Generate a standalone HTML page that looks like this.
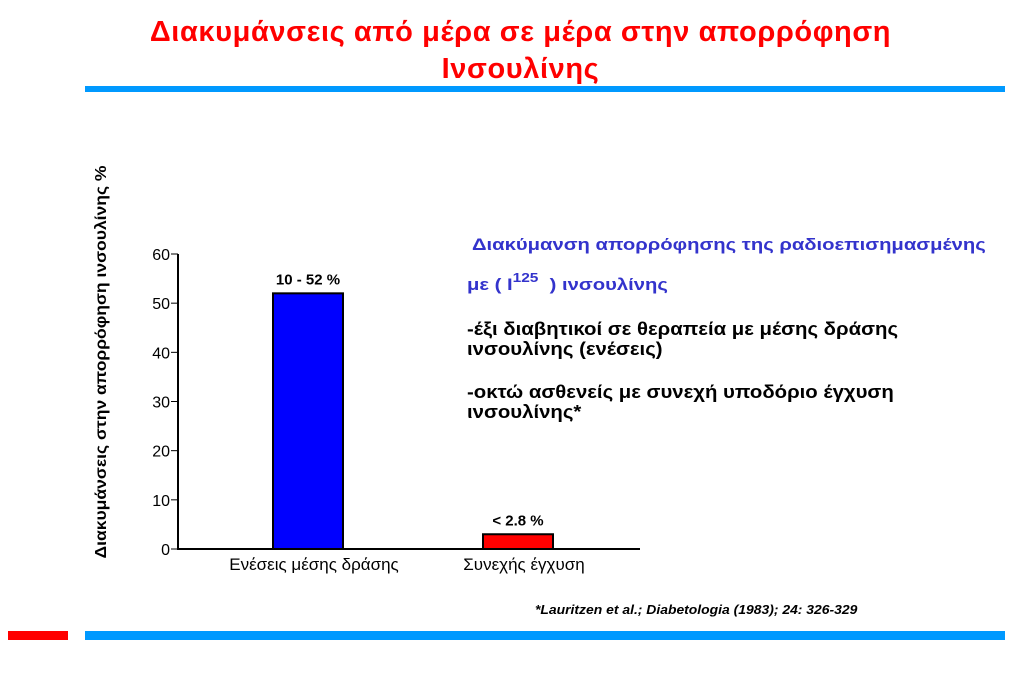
<!DOCTYPE html>
<html><head><meta charset="utf-8"><style>
body{margin:0;width:1023px;height:682px;background:#fff;position:relative;overflow:hidden;font-family:"Liberation Sans",sans-serif}
.t{position:absolute;white-space:nowrap;transform-origin:0 0}
</style></head><body>
<div class="t" style="left:148px;width:745px;text-align:center;top:14px;color:#ff0000;font-size:29px;font-weight:bold;line-height:37px;letter-spacing:0.6px">Διακυμάνσεις από μέρα σε μέρα στην απορρόφηση<br>Ινσουλίνης</div>
<div style="position:absolute;left:85px;top:86px;width:920px;height:6px;background:#0099ff"></div>
<div style="position:absolute;left:85px;top:631px;width:920px;height:9px;background:#0099ff"></div>
<div style="position:absolute;left:8px;top:631px;width:60px;height:9px;background:#ff0000"></div>
<svg id="chart" width="1023" height="682" style="position:absolute;left:0;top:0" font-family="Liberation Sans, sans-serif">
<text transform="translate(106,362) rotate(-90)" text-anchor="middle" font-size="16" font-weight="bold" textLength="393" lengthAdjust="spacingAndGlyphs">Διακυμάνσεις στην απορρόφηση ινσουλίνης %</text>
</svg>
<div class="t" style="left:472px;top:235px;color:#3333cc;font-size:17px;font-weight:bold;transform:scaleX(1.19)">Διακύμανση απορρόφησης της ραδιοεπισημασμένης</div>
<div class="t" style="left:467px;top:270px;color:#3333cc;font-size:17px;font-weight:bold;transform:scaleX(1.19)">με ( Ι<sup style="font-size:13px;vertical-align:8px">125</sup>&nbsp; ) ινσουλίνης</div>
<div class="t" style="left:467px;top:319px;font-size:18px;font-weight:bold;line-height:20px;transform:scaleX(1.13)">-έξι διαβητικοί σε θεραπεία με μέσης δράσης<br>ινσουλίνης (ενέσεις)</div>
<div class="t" style="left:467px;top:382px;font-size:18px;font-weight:bold;line-height:20px;transform:scaleX(1.13)">-οκτώ ασθενείς με συνεχή υποδόριο έγχυση<br>ινσουλίνης*</div>
<div class="t" style="left:535px;top:602px;font-size:13px;font-weight:bold;font-style:italic;transform:scaleX(1.07)">*Lauritzen et al.; Diabetologia (1983); 24: 326-329</div>
<script>
const categories=["Ενέσεις μέσης δράσης","Συνεχής έγχυση"];
const values=[52,3];
const valueLabels=["10 - 52 %","< 2.8 %"];
const colors=["#0000ff","#ff0000"];
const yTicks=[0,10,20,30,40,50,60];
const svg=document.getElementById('chart');
const NS='http://www.w3.org/2000/svg';
const y0=549,y1=254,ymax=60,xl=178,xr=640;
const y=v=>y0-(v/ymax)*(y0-y1);
const catX=[308,518];
function mk(t,a){const e=document.createElementNS(NS,t);for(const k in a)e.setAttribute(k,a[k]);svg.appendChild(e);return e;}
const ax=mk('line',{x1:xl,y1:y1,x2:xl,y2:y0+1,stroke:'#000','stroke-width':2});


const bx=mk('line',{x1:xl,y1:y0,x2:xr,y2:y0,stroke:'#000','stroke-width':2});


yTicks.forEach(v=>{
 const l=mk('line',{x1:xl-7,y1:y(v),x2:xl,y2:y(v),stroke:'#000','stroke-width':1});
 
 
 const t=mk('text',{x:xl-8,y:y(v)+6,'text-anchor':'end','font-size':16});
 t.textContent=v;
 
 
});
categories.forEach((c,i)=>{
 const cx=catX[i],w=70;
 const r=mk('rect',{x:cx-w/2,y:y(values[i]),width:w,height:y0-y(values[i]),fill:colors[i],stroke:'#000','stroke-width':2});
 
 
 const vl=mk('text',{x:cx,y:y(values[i])-9,'text-anchor':'middle','font-size':15,'font-weight':'bold'});
 vl.textContent=valueLabels[i];
 
 
 const cl=mk('text',{x:cx+6,y:570,'text-anchor':'middle','font-size':17});
 cl.textContent=c;
 
 
});
</script>
</body></html>
